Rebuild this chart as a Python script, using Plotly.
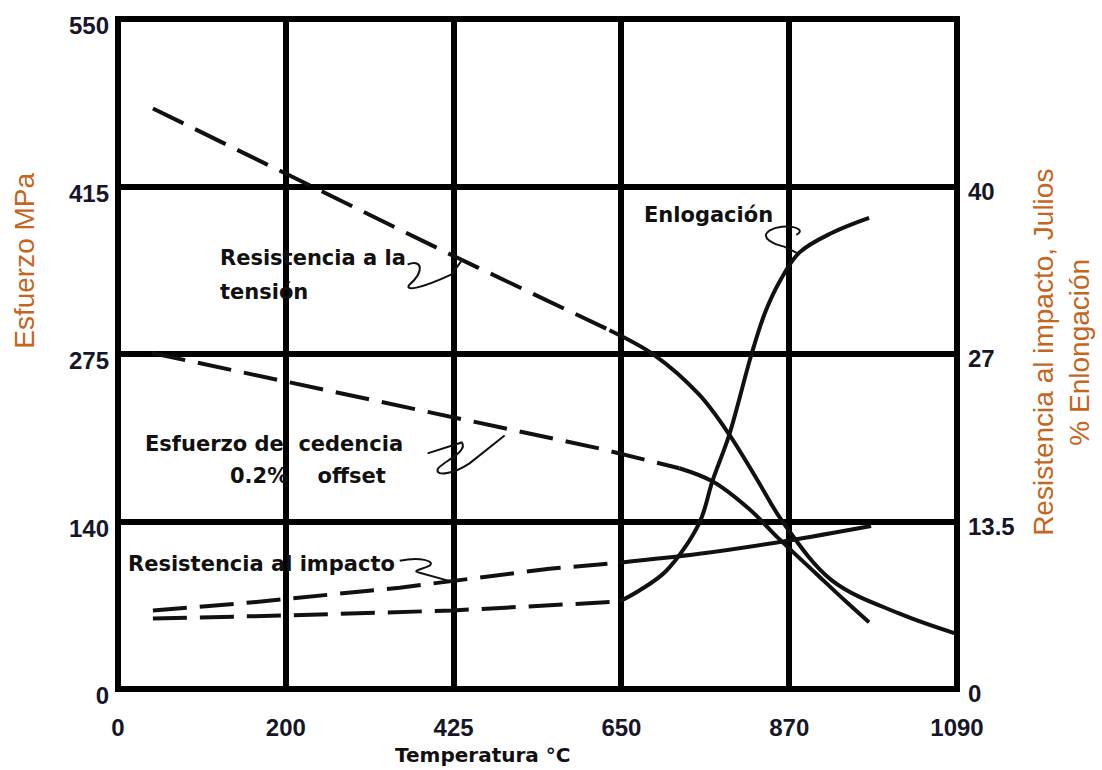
import plotly.graph_objects as go

# Axis positions are evenly spaced grid cells; labels carry the real values
x_ticks = [0, 1, 2, 3, 4, 5]
x_labels = ["0", "200", "425", "650", "870", "1090"]
y_ticks = [0, 1, 2, 3, 4]
y_labels = ["0", "140", "275", "415", "550"]
y2_ticks = [0, 1, 2, 3]
y2_labels = ["0", "13.5", "27", "40"]

# Resistencia a la tensión (dashed part, then solid)
tension_dash_x = [0.208, 1.006, 1.994, 2.929]
tension_dash_y = [3.466, 3.074, 2.588, 2.142]
tension_solid_x = [2.929, 3.196, 3.464, 3.643, 3.804, 3.958, 4.256, 4.655, 4.988]
tension_solid_y = [2.142, 1.994, 1.757, 1.519, 1.258, 1.003, 0.647, 0.451, 0.332]

# Esfuerzo de cedencia 0.2% offset
yield_dash_x = [0.202, 1.976, 2.869, 3.345]
yield_dash_y = [2.006, 1.626, 1.436, 1.318]
yield_solid_x = [3.345, 3.542, 3.762, 3.940, 4.161, 4.345, 4.476]
yield_solid_y = [1.318, 1.240, 1.074, 0.896, 0.688, 0.516, 0.398]

# Resistencia al impacto
impact_dash_x = [0.208, 0.786, 1.679, 1.994, 2.571, 2.988]
impact_dash_y = [0.469, 0.516, 0.605, 0.647, 0.718, 0.754]
impact_solid_x = [2.988, 3.464, 3.982, 4.488]
impact_solid_y = [0.754, 0.807, 0.884, 0.973]

# % Enlongación
elong_dash_x = [0.208, 1.006, 1.994, 2.988]
elong_dash_y = [0.421, 0.439, 0.469, 0.522]
elong_solid_x = [2.988, 3.107, 3.268, 3.464, 3.542, 3.643, 3.774, 3.857, 3.940, 4.060, 4.256, 4.476]
elong_solid_y = [0.522, 0.588, 0.706, 0.991, 1.240, 1.519, 1.994, 2.249, 2.427, 2.605, 2.724, 2.813]

INK = "#111111"
TICK_COLOR = "#16162a"
TITLE_COLOR = "#c4661e"
DASH = "34px,13px"
LW = 4

fig = go.Figure()


def add_curve(xs, ys, dashed, yaxis="y"):
    fig.add_trace(go.Scatter(
        x=xs, y=ys, mode="lines", yaxis=yaxis, showlegend=False, hoverinfo="skip",
        line=dict(color=INK, width=LW, dash=DASH if dashed else "solid",
                  shape="linear" if dashed else "spline", smoothing=1.0),
    ))


add_curve(tension_dash_x, tension_dash_y, True)
add_curve(tension_solid_x, tension_solid_y, False)
add_curve(yield_dash_x, yield_dash_y, True)
add_curve(yield_solid_x, yield_solid_y, False)
add_curve(impact_dash_x, impact_dash_y, True, "y2")
add_curve(impact_solid_x, impact_solid_y, False, "y2")
add_curve(elong_dash_x, elong_dash_y, True, "y2")
add_curve(elong_solid_x, elong_solid_y, False, "y2")

# Curly leader strokes from each label to its curve
leaders = [
    "M 1.726,2.534 C 1.821,2.570 1.821,2.487 1.738,2.415 C 1.702,2.374 1.798,2.386 1.988,2.475 L 2.048,2.558 L 2.143,2.510",
    "M 1.845,1.407 L 2.048,1.472 C 2.095,1.418 1.917,1.347 1.905,1.312 C 1.893,1.264 2.006,1.288 2.095,1.347 L 2.304,1.513",
    "M 1.679,0.766 C 1.798,0.789 1.893,0.766 1.857,0.736 C 1.827,0.718 1.738,0.706 1.798,0.694 L 1.988,0.641",
    "M 4.042,2.712 C 4.119,2.748 3.970,2.789 3.881,2.736 C 3.821,2.694 3.911,2.653 3.970,2.641 L 4.060,2.596",
]
for p in leaders:
    fig.add_shape(type="path", path=p, xref="x", yref="y",
                  line=dict(color=INK, width=2))

# Plot frame
fig.add_shape(type="rect", xref="paper", yref="paper", x0=0, y0=0, x1=1, y1=1,
              line=dict(color="black", width=6), layer="above")

label_font = dict(family="DejaVu Sans", size=21, color=INK, weight="bold")
labels = [
    (0.595, 2.576, "Resistencia a la"),
    (0.595, 2.368, "tensión"),
    (0.149, 1.460, "Esfuerzo de  cedencia"),
    (0.655, 1.270, "0.2%    offset"),
    (0.048, 0.748, "Resistencia al impacto"),
    (3.125, 2.831, "Enlogación"),
]
for x, y, t in labels:
    fig.add_annotation(x=x, y=y, xref="x", yref="y", text=t, showarrow=False,
                       xanchor="left", yanchor="middle", font=label_font)

fig.add_annotation(x=0.434, y=-0.099, xref="paper", yref="paper",
                   xanchor="center", yanchor="middle",
                   text="Temperatura °C", showarrow=False,
                   font=dict(family="DejaVu Sans", size=20, color=INK, weight="bold"))
fig.add_annotation(x=-0.111, y=0.639, xref="paper", yref="paper",
                   xanchor="center", yanchor="middle",
                   text="Esfuerzo MPa", textangle=-90, showarrow=False,
                   font=dict(family="Liberation Sans", size=28, color=TITLE_COLOR))
fig.add_annotation(x=1.125, y=0.503, xref="paper", yref="paper",
                   xanchor="center", yanchor="middle",
                   text="Resistencia al impacto, Julios<br>% Enlongación", textangle=-90,
                   showarrow=False,
                   font=dict(family="Liberation Sans", size=28, color=TITLE_COLOR))

tick_font = dict(family="Liberation Sans", size=24, color=TICK_COLOR, weight="bold")

fig.update_layout(
    width=1102, height=770,
    margin=dict(l=118, r=145, t=15, b=81),
    paper_bgcolor="white", plot_bgcolor="white",
    xaxis=dict(range=[0, 5], tickvals=x_ticks, ticktext=x_labels, showgrid=True,
               gridcolor="black", gridwidth=6, zeroline=False, showline=False,
               ticks="", tickfont=tick_font, ticklabelstandoff=22),
    yaxis=dict(range=[0, 4], tickvals=y_ticks, ticktext=y_labels, showgrid=True,
               gridcolor="black", gridwidth=6, zeroline=False, showline=False,
               ticks="", tickfont=tick_font, ticklabelstandoff=8, ticklabelshift=7),
    yaxis2=dict(range=[0, 4], overlaying="y", side="right", tickvals=y2_ticks,
                ticktext=y2_labels, showgrid=False, zeroline=False, showline=False,
                ticks="", tickfont=tick_font, ticklabelstandoff=10, ticklabelshift=5),
)

fig.write_html("out.html")
